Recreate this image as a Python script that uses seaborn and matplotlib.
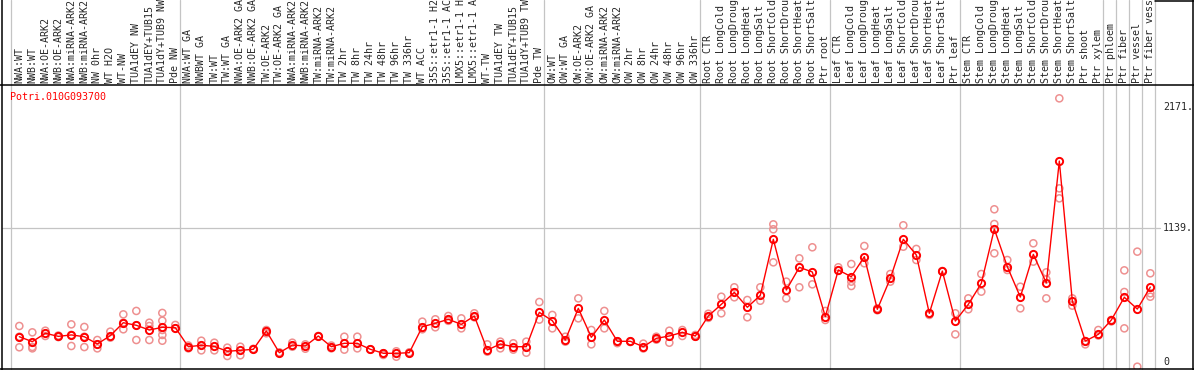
import numpy as np
import pandas as pd
import seaborn as sns
import matplotlib.pyplot as plt

gene = "Potri.010G093700"

labels = [
    # NW
    "NWA:WT", "NWB:WT", "NWA:OE-ARK2", "NWB:OE-ARK2", "NWA:miRNA-ARK2", "NWB:miRNA-ARK2",
    "NW 0hr", "WT H2O", "WT-NW", "TUA1dEY NW", "TUA1dEY+TUB15", "TUA1dY+TUB9 NW", "Pde NW",
    # TW
    "NWA:WT GA", "NWBWT GA", "TW:WT", "TW:WT GA", "NWA:OE-ARK2 GA", "NWB:OE-ARK2 GA",
    "TW:OE-ARK2", "TW:OE-ARK2 GA", "NWA:miRNA-ARK2", "NWB:miRNA-ARK2", "TW:miRNA-ARK2",
    "TW:miRNA-ARK2", "TW 2hr", "TW 8hr", "TW 24hr", "TW 48hr", "TW 96hr", "TW 336hr", "WT ACC",
    "35S::etr1-1 H2", "35S::etr1-1 AC", "LMX5::etr1-1 H", "LMX5::etr1-1 A", "WT-TW",
    "TUA1dEY TW", "TUA1dEY+TUB15", "TUA1dY+TUB9 TW", "Pde TW",
    # OW
    "OW:WT", "OW:WT GA", "OW:OE-ARK2", "OW:OE-ARK2 GA", "OW:miRNA-ARK2", "OW:miRNA-ARK2",
    "OW 2hr", "OW 8hr", "OW 24hr", "OW 48hr", "OW 96hr", "OW 336hr",
    # root
    "Root CTR", "Root LongCold", "Root LongDroug", "Root LongHeat", "Root LongSalt",
    "Root ShortCold", "Root ShortDrou", "Root ShortHeat", "Root ShortSalt", "Ptr root",
    # leaf
    "Leaf CTR", "Leaf LongCold", "Leaf LongDroug", "Leaf LongHeat", "Leaf LongSalt",
    "Leaf ShortCold", "Leaf ShortDrou", "Leaf ShortHeat", "Leaf ShortSalt", "Ptr leaf",
    # stem
    "Stem CTR", "Stem LongCold", "Stem LongDroug", "Stem LongHeat", "Stem LongSalt",
    "Stem ShortCold", "Stem ShortDrou", "Stem ShortHeat", "Stem ShortSalt", "Ptr shoot", "Ptr xylem",
    # wood cells
    "Ptr phloem", "Ptr fiber", "Ptr vessel", "Ptr fiber vess",
]

group_sizes = [13, 28, 12, 10, 10, 11, 1, 1, 1, 1]

means = [
    215, 173, 244, 218, 230, 215, 153, 224, 334, 312, 272, 295, 292,
    130, 142, 133, 91, 99, 108, 264, 79, 144, 136, 221, 130, 159, 159, 108, 74, 74, 79,
    300, 329, 363, 320, 391, 102, 153, 130, 130, 422,
    351, 187, 456, 210, 357, 176, 176, 130, 201, 221, 252, 221,
    391, 490, 592, 465, 567, 1043, 612, 805, 765, 385,
    782, 725, 895, 448, 711, 1043, 910, 414, 773, 348,
    490, 669, 1130, 810, 552, 915, 672, 1708, 518, 178, 235,
    357, 550, 450, 637,
]

samples = [
    [306, 125, 215], [252, 116, 128], [266, 221], [225, 212], [320, 136, 230],
    [298, 127, 215], [187, 116, 150], [258, 207], [405, 278, 334], [434, 187, 312],
    [334, 306, 187], [417, 351, 272, 230, 181], [315, 286],
    [116, 140], [181, 99], [164, 99], [122, 51], [130, 57], [108, 112], [272, 244],
    [79, 82], [164, 130], [113, 150], [221, 218], [116, 140], [215, 105], [215, 116],
    [108, 105], [74, 60], [91, 45], [79, 82], [343, 278], [363, 295], [391, 350],
    [371, 286], [414, 380], [150, 88], [173, 116], [159, 105], [173, 79], [510, 360],
    [400, 286], [215, 173], [541, 371], [272, 150], [434, 286], [176, 160], [176, 170],
    [156, 115], [215, 190], [266, 164], [272, 221], [230, 215],
    [410, 375], [555, 414], [635, 550], [527, 380], [635, 521], [1170, 1128, 847],
    [683, 541], [881, 635], [975, 660], [434, 357],
    [805, 775], [833, 683, 646], [986, 839], [456, 440], [748, 683], [1162, 980],
    [961, 867], [414, 400], [773, 770], [414, 235],
    [541, 448], [748, 598], [1298, 1173, 924], [867, 782], [640, 456], [1009, 853],
    [762, 703, 541], [2241, 1476, 1391], [541, 479], [178, 150], [272, 225],
    [357, 345], [779, 595, 286], [938, -40], [754, 584, 555],
]

ytick_values = [2171, 1139, 0]
ytick_labels = ["2171.", "1139.", "0"]

sns.set_style("white")
plt.rcParams["font.family"] = ["DejaVu Sans Mono"]

W, H = 1194, 370
fig = plt.figure(figsize=(W / 100, H / 100), dpi=100)
ax = fig.add_axes([0, 1 / H, 1, 284 / H])

pos = np.arange(len(labels)) + 0.64
df_mean = pd.DataFrame({"pos": pos, "value": means})
df_samp = pd.DataFrame(
    [(p, v) for p, vals in zip(pos, samples) for v in vals], columns=["pos", "value"]
)

# replicate samples
sns.scatterplot(data=df_samp, x="pos", y="value", marker="o", s=26,
                facecolors="none", edgecolor="#ee9090", linewidth=1.1,
                ax=ax, zorder=3, legend=False)
# mean line
sns.lineplot(data=df_mean, x="pos", y="value", color="red", lw=1,
             marker="o", markersize=5.2, markerfacecolor="none",
             markeredgecolor="red", markeredgewidth=1.4, ax=ax, zorder=4)

# 1 column = 13 px, 1 px = 8.5 units
ax.set_xlim(-11 / 13, (W - 11) / 13)
ax.set_ylim((362 - 369) * 8.5, (362 - 85) * 8.5)

for s in ax.spines.values():
    s.set_visible(False)

ax.xaxis.tick_top()
ax.set_xticks(pos)
ax.set_xticklabels(labels, rotation=90, fontsize=7.2)
ax.tick_params(axis="x", length=0, pad=1.5)
ax.set_yticks([])
ax.set_xlabel("")
ax.set_ylabel("")

# group separators run up through the label area
for b in np.cumsum([0] + group_sizes):
    ax.axvline(b, ymin=0, ymax=369 / 284, color="#c4c4c4", lw=0.9,
               clip_on=False, zorder=1)
ax.axhline(1139, xmin=2 / W, xmax=1160 / W, color="#c4c4c4", lw=0.9, zorder=1)

# black frame
def px_line(x0, y0, x1, y1):
    fig.add_artist(plt.Line2D([x0 / W, x1 / W], [1 - y0 / H, 1 - y1 / H],
                              transform=fig.transFigure, color="black", lw=1.1))

px_line(1.5, 0, 1.5, H)
px_line(W - 1.5, 0, W - 1.5, H)
px_line(0, 85, W, 85)
px_line(0, H - 1, W, H - 1)
px_line(1155, 0.5, W, 0.5)

ax.text(-1 / 13, (362 - 97) * 8.5, gene, color="red", fontsize=7.2,
        ha="left", va="center")
for v, t in zip(ytick_values, ytick_labels):
    ax.text((1163 - 11) / 13, v, t, fontsize=7.2, ha="left", va="center")

fig.savefig("out.png", dpi=100)
